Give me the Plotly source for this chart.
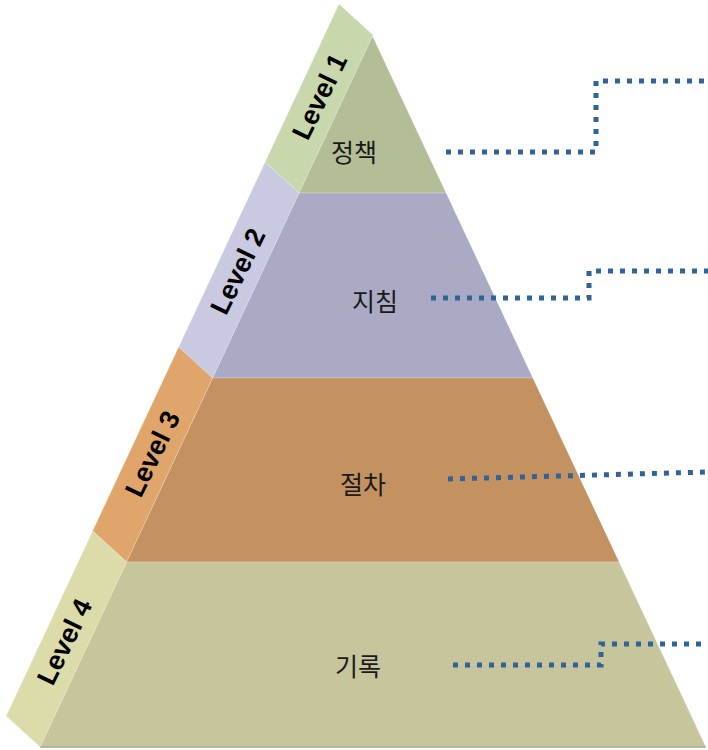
import plotly.graph_objects as go

# ---- content ----
levels = ["Level 1", "Level 2", "Level 3", "Level 4"]
labels = ["정책", "지침", "절차", "기록"]

# ---- styles ----
front_colors = ["#b3be97", "#abaac5", "#c49261", "#c7c59c"]
side_colors = ["#c9d7ad", "#c9c9e1", "#e0a56a", "#dbdcaa"]
dot_color = "#2f6399"

# ---- geometry (canvas units, y grows downward) ----
W, H = 708, 750
apex_x, apex_y = 339, 4
out_slope = -0.4675          # dx/dy of outer left edge
right_x0, right_y0, right_slope = 372, 35, 0.469
bevel_dx, bevel_dy = 34, 31
bounds = [35, 193, 378, 562, 747]


def x_out(y):
    return apex_x + out_slope * (y - apex_y)


def x_in(y):
    return x_out(y - bevel_dy) + bevel_dx


def x_right(y):
    return right_x0 + right_slope * (y - right_y0)


fig = go.Figure()

for k in range(4):
    yt, yb = bounds[k], bounds[k + 1]
    # left bevel face
    sx = [x_out(yt - bevel_dy), x_in(yt), x_in(yb), x_out(yb - bevel_dy), x_out(yt - bevel_dy)]
    sy = [yt - bevel_dy, yt, yb, yb - bevel_dy, yt - bevel_dy]
    fig.add_trace(go.Scatter(x=sx, y=sy, fill="toself", fillcolor=side_colors[k],
                             mode="lines", line=dict(width=0.6, color="rgba(255,255,255,0.35)"),
                             hoverinfo="skip", showlegend=False))
    # front face
    fx = [x_in(yt), x_right(yt), x_right(yb), x_in(yb), x_in(yt)]
    fy = [yt, yt, yb, yb, yt]
    fig.add_trace(go.Scatter(x=fx, y=fy, fill="toself", fillcolor=front_colors[k],
                             mode="lines", line=dict(width=0.6, color="rgba(255,255,255,0.35)"),
                             hoverinfo="skip", showlegend=False))

# bottom edge shading line
fig.add_trace(go.Scatter(x=[x_in(bounds[-1]), x_right(bounds[-1])], y=[bounds[-1], bounds[-1]],
                         mode="lines", line=dict(width=1.5, color="#a9a88c"),
                         hoverinfo="skip", showlegend=False))

# connectors (dotted)
conn_x0 = [446, 431, 448, 453]
conn_y0 = [152, 298, 479, 665]
conn_xe = [596, 589, None, 601]
conn_y1 = [81, 271, 472, 644]
for k in range(4):
    if conn_xe[k] is None:
        cx = [conn_x0[k], W]
        cy = [conn_y0[k], conn_y1[k]]
    else:
        cx = [conn_x0[k], conn_xe[k], conn_xe[k], W]
        cy = [conn_y0[k], conn_y0[k], conn_y1[k], conn_y1[k]]
    fig.add_trace(go.Scatter(x=cx, y=cy, mode="lines",
                             line=dict(width=5, color=dot_color, dash="5px,7px"),
                             hoverinfo="skip", showlegend=False))

# Korean labels on front faces
label_pos = [(354, 151), (375, 300), (363, 483), (358, 665)]
for k in range(4):
    fig.add_annotation(x=label_pos[k][0], y=label_pos[k][1], text=labels[k], showarrow=False,
                       font=dict(family="Noto Sans CJK KR", size=25, color="#1a1a1a"),
                       xanchor="center", yanchor="middle")

# Level labels on bevel faces
level_y = [97, 271, 454, 642]
for k in range(4):
    yc = level_y[k]
    xc = x_out(yc) + 24
    fig.add_annotation(x=xc, y=yc, text="<b>" + levels[k] + "</b>", showarrow=False,
                       textangle=-64,
                       font=dict(family="Liberation Sans, Arial", size=27, color="#000000"),
                       xanchor="center", yanchor="middle")

fig.update_layout(
    width=W, height=H, margin=dict(l=0, r=0, t=0, b=0),
    paper_bgcolor="white", plot_bgcolor="white",
    xaxis=dict(range=[0, W], visible=False, fixedrange=True),
    yaxis=dict(range=[H, 0], visible=False, fixedrange=True),
    showlegend=False,
)

fig.write_html("out.html", config={"displayModeBar": False},
               post_script="document.body.style.margin='0';document.body.style.overflow='hidden';")
